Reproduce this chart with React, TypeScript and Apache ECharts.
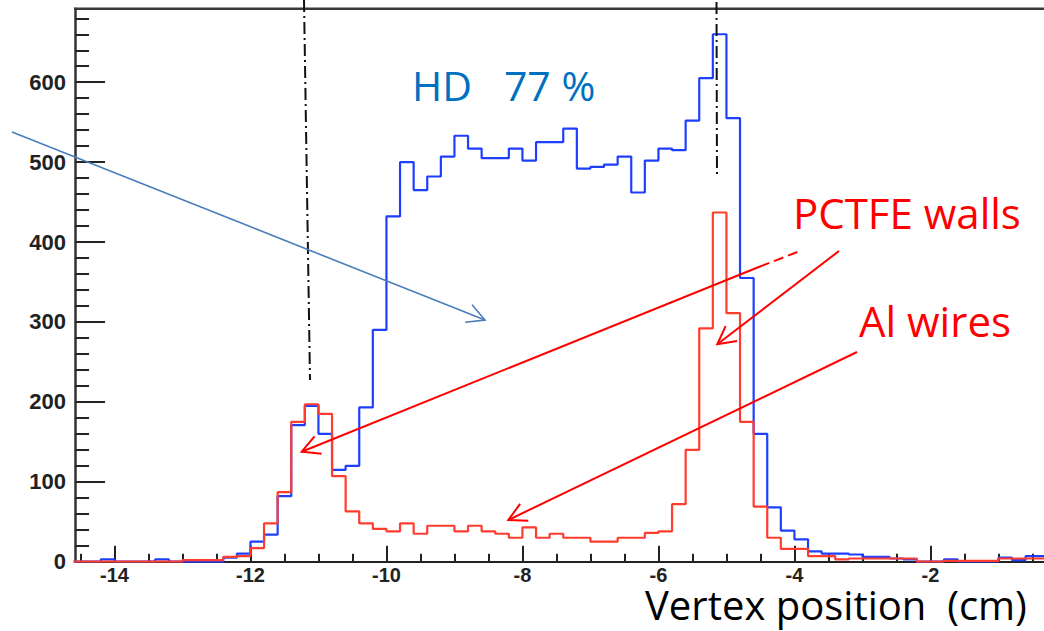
import { useEffect, useRef } from "react";
import * as echarts from "echarts";

// ---- data ----
const BIN_WIDTH = 0.2;
const binLowEdges = [
  -14.6, -14.4, -14.2, -14.0, -13.8, -13.6, -13.4, -13.2, -13.0, -12.8,
  -12.6, -12.4, -12.2, -12.0, -11.8, -11.6, -11.4, -11.2, -11.0, -10.8,
  -10.6, -10.4, -10.2, -10.0, -9.8, -9.6, -9.4, -9.2, -9.0, -8.8,
  -8.6, -8.4, -8.2, -8.0, -7.8, -7.6, -7.4, -7.2, -7.0, -6.8,
  -6.6, -6.4, -6.2, -6.0, -5.8, -5.6, -5.4, -5.2, -5.0, -4.8,
  -4.6, -4.4, -4.2, -4.0, -3.8, -3.6, -3.4, -3.2, -3.0, -2.8,
  -2.6, -2.4, -2.2, -2.0, -1.8, -1.6, -1.4, -1.2, -1.0, -0.8,
  -0.6, -0.4, -0.2,
];
// blue histogram (HD target, full)
const hdCounts = [
  0, 0, 3, 0, 0, 0, 3, 0, 0, 0,
  0, 5, 10, 25, 34, 82, 171, 195, 160, 115,
  120, 193, 290, 432, 500, 465, 482, 507, 533, 517,
  505, 505, 517, 502, 525, 525, 542, 492, 494, 497,
  507, 462, 502, 517, 515, 552, 605, 660, 555, 355,
  160, 68, 39, 28, 13, 10, 10, 9, 6, 6,
  4, 3, 0, 0, 3, 0, 0, 0, 5, 2,
  7, 7, 5,
];
// red histogram (empty cell: PCTFE walls + Al wires)
const wallsCounts = [
  0, 0, 0, 0, 0, 0, 0, 0, 2, 2,
  2, 6, 7, 17, 48, 87, 175, 197, 185, 107,
  63, 48, 41, 38, 48, 35, 45, 45, 38, 45,
  38, 35, 30, 43, 30, 35, 30, 30, 25, 25,
  30, 30, 36, 38, 72, 140, 292, 437, 311, 175,
  69, 30, 16, 16, 7, 7, 3, 4, 4, 4,
  4, 4, 0, 0, 1, 1, 1, 1, 4, 4,
  4, 4, 4,
];
const xMajorTicks = [-14, -12, -10, -8, -6, -4, -2];
const xMinorTicks = [
  -14.5, -14, -13.5, -13, -12.5, -12, -11.5, -11, -10.5, -10, -9.5, -9,
  -8.5, -8, -7.5, -7, -6.5, -6, -5.5, -5, -4.5, -4, -3.5, -3, -2.5, -2,
  -1.5, -1, -0.5,
];
const yMajorTicks = [0, 100, 200, 300, 400, 500, 600];
const yMinorTicks = [
  20, 40, 60, 80, 120, 140, 160, 180, 220, 240, 260, 280, 320, 340, 360, 380,
  420, 440, 460, 480, 520, 540, 560, 580, 620, 640, 660, 680,
];
const X_MIN = -14.58;
const X_MAX = -0.33;
const Y_MIN = 0;
const Y_MAX = 692;

const hdLabel = "HD   77 %";
const wallsLabel = "PCTFE walls";
const wiresLabel = "Al wires";
const xTitle = "Vertex position  (cm)";

// ---- helpers ----
function histPoints(edges: number[], counts: number[]) {
  const pts = edges.map((e, i) => [e, counts[i]]);
  const last = edges.length - 1;
  pts.push([+(edges[last] + BIN_WIDTH).toFixed(2), counts[last]]);
  return pts;
}

function arrowHead(from: number[], tip: number[], len: number, deg: number) {
  const dx = from[0] - tip[0];
  const dy = from[1] - tip[1];
  const d = Math.hypot(dx, dy);
  const ux = dx / d;
  const uy = dy / d;
  const a = (deg * Math.PI) / 180;
  const rot = (s: number) => [
    tip[0] + len * (ux * Math.cos(s * a) - uy * Math.sin(s * a)),
    tip[1] + len * (ux * Math.sin(s * a) + uy * Math.cos(s * a)),
  ];
  return [rot(1), tip, rot(-1)];
}

function arrow(from: number[], tip: number[], color: string, width: number) {
  return [
    {
      type: "line",
      z: 100,
      shape: { x1: from[0], y1: from[1], x2: tip[0], y2: tip[1] },
      style: { stroke: color, lineWidth: width },
      silent: true,
    },
    {
      type: "polyline",
      z: 100,
      shape: { points: arrowHead(from, tip, 20, 28) },
      style: { stroke: color, lineWidth: width, fill: null },
      silent: true,
    },
  ];
}

export default function App() {
  const ref = useRef<HTMLDivElement>(null);

  useEffect(() => {
    if (!ref.current) return;
    const chart = echarts.init(ref.current, null, { renderer: "svg" });

    const labelFont = "'Liberation Sans', Arial, sans-serif";
    const annFont = "'Open Sans', sans-serif";

    const option: any = {
      animation: false,
      backgroundColor: "#ffffff",
      grid: { left: 75, right: 0, top: 8.7, bottom: 69.3, show: false },
      xAxis: [
        {
          type: "value",
          min: X_MIN,
          max: X_MAX,
          position: "bottom",
          axisLine: { show: true, onZero: false, lineStyle: { color: "#222", width: 2 } },
          axisTick: {
            show: true,
            inside: true,
            length: 16,
            customValues: xMajorTicks,
            lineStyle: { color: "#222", width: 2 },
          },
          axisLabel: {
            show: true,
            customValues: xMajorTicks,
            margin: 3,
            color: "#222",
            fontFamily: labelFont,
            fontWeight: "bold",
            fontSize: 20,
            lineHeight: 20,
          },
          splitLine: { show: false },
        },
        {
          type: "value",
          min: X_MIN,
          max: X_MAX,
          position: "bottom",
          axisLine: { show: false },
          axisTick: {
            show: true,
            inside: true,
            length: 8,
            customValues: xMinorTicks,
            lineStyle: { color: "#222", width: 2 },
          },
          axisLabel: { show: false },
          splitLine: { show: false },
        },
      ],
      yAxis: [
        {
          type: "value",
          min: Y_MIN,
          max: Y_MAX,
          position: "left",
          axisLine: { show: true, onZero: false, lineStyle: { color: "#333", width: 2.5 } },
          axisTick: {
            show: true,
            inside: true,
            length: 30,
            customValues: yMajorTicks,
            lineStyle: { color: "#222", width: 2 },
          },
          axisLabel: {
            show: true,
            customValues: yMajorTicks,
            margin: 9,
            color: "#222",
            fontFamily: labelFont,
            fontWeight: "bold",
            fontSize: 22,
          },
          splitLine: { show: false },
        },
        {
          type: "value",
          min: Y_MIN,
          max: Y_MAX,
          position: "left",
          axisLine: { show: false },
          axisTick: {
            show: true,
            inside: true,
            length: 14,
            customValues: yMinorTicks,
            lineStyle: { color: "#222", width: 2 },
          },
          axisLabel: { show: false },
          splitLine: { show: false },
        },
      ],
      series: [
        {
          name: "HD",
          type: "line",
          step: "end",
          xAxisIndex: 0,
          yAxisIndex: 0,
          symbol: "none",
          data: histPoints(binLowEdges, hdCounts),
          lineStyle: { color: "#1f3fff", width: 2.2 },
          z: 3,
          silent: true,
        },
        {
          name: "walls",
          type: "line",
          step: "end",
          xAxisIndex: 0,
          yAxisIndex: 0,
          symbol: "none",
          data: histPoints(binLowEdges, wallsCounts),
          lineStyle: { color: "#ff3d2e", width: 2.2 },
          z: 4,
          silent: true,
        },
      ],
      graphic: [
        // top frame line
        {
          type: "line",
          z: 50,
          shape: { x1: 74, y1: 8.7, x2: 1044, y2: 8.7 },
          style: { stroke: "#3a3a3a", lineWidth: 2.5 },
          silent: true,
        },
        // dash-dot vertical markers
        {
          type: "line",
          z: 60,
          shape: { x1: 304, y1: 0, x2: 310, y2: 380 },
          style: { stroke: "#111", lineWidth: 2, lineDash: [12, 4, 2, 4] },
          silent: true,
        },
        {
          type: "line",
          z: 60,
          shape: { x1: 716.5, y1: 2, x2: 717, y2: 175 },
          style: { stroke: "#111", lineWidth: 2, lineDash: [12, 4, 2, 4] },
          silent: true,
        },
        // arrows
        ...arrow([12, 132], [485, 320], "#4a7ebb", 1.6),
        ...arrow([760, 266.5], [301.7, 451.7], "#ff0000", 2),
        {
          type: "line",
          z: 100,
          shape: { x1: 760, y1: 266.5, x2: 800, y2: 251 },
          style: { stroke: "#ff0000", lineWidth: 2, lineDash: [10, 5] },
          silent: true,
        },
        ...arrow([839, 251], [717.3, 344.3], "#ff0000", 2),
        ...arrow([857, 352], [508.3, 520], "#ff0000", 2),
        // texts
        {
          type: "text",
          z: 100,
          x: 412,
          y: 85,
          style: {
            text: hdLabel,
            fill: "#0070c0",
            font: `41px ${annFont}`,
            textAlign: "left",
            textVerticalAlign: "middle",
          },
          silent: true,
        },
        {
          type: "text",
          z: 100,
          x: 793,
          y: 212,
          style: {
            text: wallsLabel,
            fill: "#ff0000",
            font: `42px ${annFont}`,
            textAlign: "left",
            textVerticalAlign: "middle",
          },
          silent: true,
        },
        {
          type: "text",
          z: 100,
          x: 859,
          y: 320,
          style: {
            text: wiresLabel,
            fill: "#ff0000",
            font: `42px ${annFont}`,
            textAlign: "left",
            textVerticalAlign: "middle",
          },
          silent: true,
        },
        {
          type: "text",
          z: 100,
          x: 645,
          y: 604,
          style: {
            text: xTitle,
            fill: "#000000",
            font: `40px ${annFont}`,
            textAlign: "left",
            textVerticalAlign: "middle",
          },
          silent: true,
        },
      ],
    };

    chart.setOption(option);
    return () => chart.dispose();
  }, []);

  return (
    <div
      style={{
        position: "fixed",
        left: 0,
        top: 0,
        width: 1044,
        height: 631,
        overflow: "hidden",
        background: "#fff",
      }}
    >
      <div ref={ref} style={{ width: 1044, height: 631 }} />
    </div>
  );
}
